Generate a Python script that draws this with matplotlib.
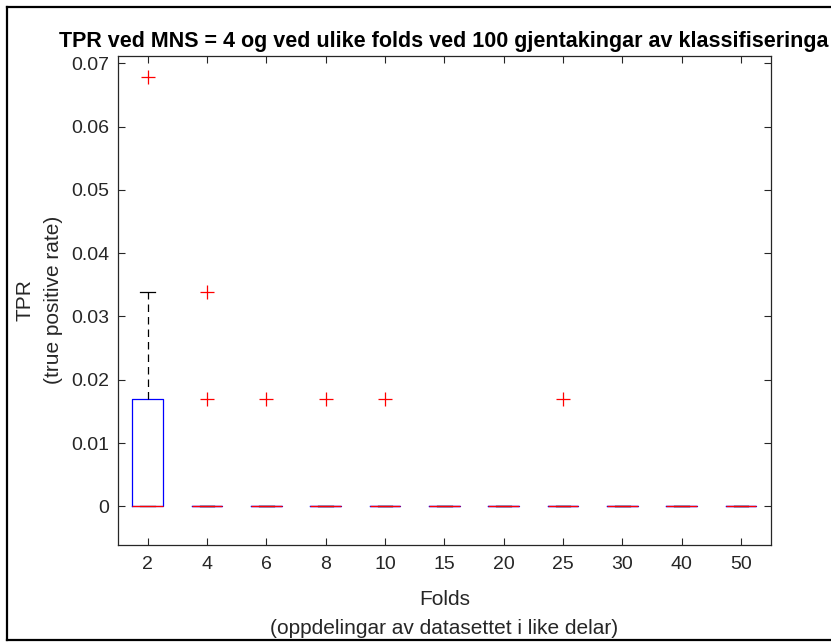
import matplotlib.pyplot as plt
from matplotlib.lines import Line2D

# summary stats (one box per number of folds)
folds = ['2', '4', '6', '8', '10', '15', '20', '25', '30', '40', '50']
q1 = [0, 0, 0, 0, 0, 0, 0, 0, 0, 0, 0]
med = [0, 0, 0, 0, 0, 0, 0, 0, 0, 0, 0]
q3 = [0.0169, 0, 0, 0, 0, 0, 0, 0, 0, 0, 0]
whislo = [0, 0, 0, 0, 0, 0, 0, 0, 0, 0, 0]
whishi = [0.0339, 0, 0, 0, 0, 0, 0, 0, 0, 0, 0]
outliers = [[0.0678], [0.0169, 0.0339], [0.0169], [0.0169], [0.0169],
            [], [], [0.0169], [], [], []]
yticks = [0, 0.01, 0.02, 0.03, 0.04, 0.05, 0.06, 0.07]
ytick_labels = ['0', '0.01', '0.02', '0.03', '0.04', '0.05', '0.06', '0.07']

plt.rcParams['font.family'] = ['Liberation Sans', 'DejaVu Sans']
dark = '#262626'

fig = plt.figure(figsize=(8.31, 6.42), dpi=100)
ax = fig.add_axes([118/831, 97/642, 652.7/831, 489.3/642])

stats = []
for i in range(len(folds)):
    stats.append({'med': med[i], 'q1': q1[i], 'q3': q3[i],
                  'whislo': whislo[i], 'whishi': whishi[i],
                  'fliers': outliers[i]})

ax.bxp(stats, positions=range(1, len(folds) + 1), widths=0.52, capwidths=0.25,
       boxprops=dict(color='blue', linewidth=0.9),
       medianprops=dict(color='red', linewidth=0.9, zorder=3),
       whiskerprops=dict(color='black', linewidth=0.9, linestyle=(0, (6, 4))),
       capprops=dict(color='black', linewidth=0.9),
       flierprops=dict(marker='+', markeredgecolor='red', markersize=10,
                       markeredgewidth=0.9, linestyle='none'))

ax.set_xlim(0.5, len(folds) + 0.5)
ax.set_ylim(-0.0061, 0.0712)
ax.set_xticks(range(1, len(folds) + 1))
ax.set_xticklabels(folds)
ax.set_yticks(yticks)
ax.set_yticklabels(ytick_labels)
ax.tick_params(direction='in', top=True, right=True, length=5, width=0.8,
               colors=dark, labelsize=14)
ax.tick_params(axis='y', pad=6.5)
ax.tick_params(axis='x', pad=8)
for s in ax.spines.values():
    s.set_color(dark)
    s.set_linewidth(0.9)

ax.set_xlabel('Folds\n(oppdelingar av datasettet i like delar)', fontsize=15,
              color=dark, linespacing=1.65, labelpad=12)
ax.set_ylabel('TPR\n(true positive rate)', fontsize=15, color=dark,
              linespacing=1.57, labelpad=6)
fig.text(444/831, 1 - 47/642, 'TPR ved MNS = 4 og ved ulike folds ved 100 gjentakingar av klassifiseringa',
         ha='center', va='baseline', fontsize=15.5, fontweight='bold')

# frame of the screenshot
fig.add_artist(Line2D([7/831, 7/831], [2/642, 635/642], color='black', lw=1.6))
fig.add_artist(Line2D([7/831, 1], [635/642, 635/642], color='black', lw=1.6))
fig.add_artist(Line2D([7/831, 1], [2/642, 2/642], color='black', lw=1.6))

fig.savefig('out.png', dpi=100)
